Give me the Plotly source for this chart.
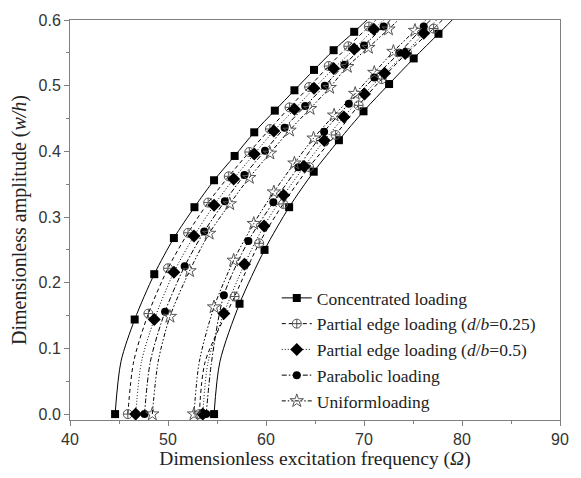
import plotly.graph_objects as go

# ---------------- data ----------------
series_names = [
    "Concentrated loading",
    "Partial edge loading (<i>d</i>/<i>b</i>=0.25)",
    "Partial edge loading (<i>d</i>/<i>b</i>=0.5)",
    "Parabolic loading",
    "Uniformloading",
]

# Left branch markers (frequency, amplitude)
conc_L_x = [44.6, 46.6, 48.6, 50.6, 52.7, 54.7, 56.8, 58.8, 60.9, 62.9, 64.9, 66.9, 69.0]
conc_L_w = [0.0, 0.144, 0.213, 0.268, 0.315, 0.356, 0.393, 0.429, 0.462, 0.493, 0.524, 0.554, 0.582]
pe25_L_x = [45.9, 48.0, 50.0, 52.05, 54.1, 56.2, 58.3, 60.4, 62.4, 64.4, 66.4, 68.4, 70.5]
pe25_L_w = [0.0, 0.153, 0.222, 0.276, 0.322, 0.362, 0.399, 0.434, 0.467, 0.498, 0.530, 0.560, 0.590]
pe05_L_x = [46.7, 48.6, 50.6, 52.65, 54.7, 56.7, 58.8, 60.8, 62.9, 64.9, 66.9, 69.0, 71.0]
pe05_L_w = [0.0, 0.144, 0.216, 0.271, 0.318, 0.358, 0.396, 0.431, 0.464, 0.496, 0.526, 0.556, 0.586]
para_L_x = [47.6, 49.7, 51.7, 53.7, 55.8, 57.8, 59.9, 61.9, 64.0, 66.0, 68.0, 70.0, 72.0]
para_L_w = [0.0, 0.156, 0.225, 0.278, 0.324, 0.364, 0.401, 0.436, 0.469, 0.500, 0.532, 0.561, 0.590]
unif_L_x = [48.4, 50.2, 52.2, 54.2, 56.3, 58.3, 60.4, 62.4, 64.5, 66.5, 68.3, 70.45, 72.5]
unif_L_w = [0.0, 0.1485, 0.218, 0.275, 0.320, 0.360, 0.397, 0.432, 0.465, 0.497, 0.529, 0.558, 0.586]

# Right branch markers
conc_R_x = [54.7, 57.3, 59.85, 62.36, 64.87, 67.44, 69.95, 72.56, 75.07, 77.6]
conc_R_w = [0.0, 0.168, 0.250, 0.315, 0.369, 0.417, 0.461, 0.5025, 0.5415, 0.579]
pe25_R_x = [53.2, 56.8, 59.3, 61.75, 64.4, 67.1, 69.45, 71.8, 74.4, 77.1]
pe25_R_w = [0.0, 0.179, 0.260, 0.320, 0.376, 0.425, 0.470, 0.510, 0.550, 0.587]
pe05_R_x = [53.55, 55.7, 57.8, 59.8, 61.8, 63.9, 65.95, 67.95, 70.05, 72.1, 74.2, 76.1]
pe05_R_w = [0.0, 0.153, 0.228, 0.2865, 0.333, 0.377, 0.4165, 0.4525, 0.4875, 0.519, 0.549, 0.580]
para_R_x = [53.9, 55.7, 58.2, 60.75, 63.3, 65.93, 68.45, 71.06, 73.6, 76.1]
para_R_w = [0.0, 0.181, 0.2635, 0.3225, 0.376, 0.430, 0.4725, 0.5125, 0.550, 0.590]
unif_R_x = [52.65, 54.7, 56.7, 58.75, 60.8, 62.9, 64.85, 66.95, 69.1, 71.05, 73.0, 75.2]
unif_R_w = [0.0, 0.163, 0.234, 0.290, 0.338, 0.382, 0.420, 0.455, 0.488, 0.520, 0.552, 0.584]

# extra points on the drawn curves: low point near the start, and where the curve leaves the top
low_L = {"conc": (45.2, 0.08), "pe25": (46.5, 0.08), "pe05": (47.3, 0.08), "para": (48.2, 0.08), "unif": (49.0, 0.08)}
top_L = {"conc": (70.3, 0.6), "pe25": (71.2, 0.6), "pe05": (72.0, 0.6), "para": (72.7, 0.6), "unif": (73.5, 0.6)}
low_R = {"conc": (55.3, 0.08), "pe25": (53.8, 0.08), "pe05": (54.1, 0.08), "para": (54.45, 0.08), "unif": (53.2, 0.08)}
top_R = {"conc": (79.0, 0.6), "pe25": (78.0, 0.6), "pe05": (77.4, 0.6), "para": (76.8, 0.6), "unif": (76.3, 0.6)}

x_ticks = [40, 50, 60, 70, 80, 90]
y_ticks = [0.0, 0.1, 0.2, 0.3, 0.4, 0.5, 0.6]

# ---------------- styles ----------------
keys = ["conc", "pe25", "pe05", "para", "unif"]
branches = {
    "conc": [(conc_L_x, conc_L_w, "L"), (conc_R_x, conc_R_w, "R")],
    "pe25": [(pe25_L_x, pe25_L_w, "L"), (pe25_R_x, pe25_R_w, "R")],
    "pe05": [(pe05_L_x, pe05_L_w, "L"), (pe05_R_x, pe05_R_w, "R")],
    "para": [(para_L_x, para_L_w, "L"), (para_R_x, para_R_w, "R")],
    "unif": [(unif_L_x, unif_L_w, "L"), (unif_R_x, unif_R_w, "R")],
}
dashes = {"conc": "solid", "pe25": "4px,3px", "pe05": "1px,2px", "para": "5px,2px,1.5px,2px",
          "unif": "4px,2px,1.5px,2px,1.5px,2px"}
markers = {
    "conc": dict(symbol="square", size=8, color="black", line=dict(width=0)),
    "pe25": dict(symbol="circle-cross-open", size=9, color="#555555", line=dict(width=1, color="#555555")),
    "pe05": dict(symbol="diamond", size=10, color="black", line=dict(width=0)),
    "para": dict(symbol="circle", size=8, color="black", line=dict(width=0)),
    "unif": dict(symbol="star-open", size=10, color="#555555", line=dict(width=1, color="#555555")),
}

fig = go.Figure()
for k in keys:
    for bx, bw, side in branches[k]:
        low = (low_L if side == "L" else low_R)[k]
        top = (top_L if side == "L" else top_R)[k]
        lx = [bx[0], low[0]] + bx[1:] + [top[0]]
        lw = [bw[0], low[1]] + bw[1:] + [top[1]]
        fig.add_trace(go.Scatter(x=lx, y=lw, mode="lines",
                                 line=dict(color="black", width=1, dash=dashes[k], shape="spline", smoothing=0.8),
                                 showlegend=False, hoverinfo="skip"))
for k in keys:
    for bx, bw, side in branches[k]:
        fig.add_trace(go.Scatter(x=bx, y=bw, mode="markers", marker=markers[k], showlegend=False))

for k, name in zip(keys, series_names):
    fig.add_trace(go.Scatter(x=[None], y=[None], mode="lines+markers", name=name,
                             line=dict(color="black", width=1, dash=dashes[k]),
                             marker=markers[k]))

axis_common = dict(showline=True, linecolor="#7f7f7f", linewidth=1, mirror=True,
                   ticks="outside", ticklen=5, tickcolor="#7f7f7f", tickwidth=1,
                   showgrid=False, zeroline=False,
                   tickfont=dict(family="Liberation Sans, Arial, sans-serif", size=16, color="#333333"))

serif = "Liberation Serif, Times New Roman, serif"
fig.update_layout(
    width=581, height=478,
    margin=dict(l=70, r=13, t=15, b=57),
    paper_bgcolor="white", plot_bgcolor="white",
    xaxis=dict(range=[40, 90], tickvals=x_ticks,
               minor=dict(ticks="outside", ticklen=3, tickcolor="#7f7f7f", dtick=5, showgrid=False),
               title=dict(text="Dimensionless excitation frequency (<i>Ω</i>)", standoff=4,
                          font=dict(family=serif, size=19.5, color="#222222")),
               **axis_common),
    yaxis=dict(range=[-0.009, 0.6], tickvals=y_ticks, tickformat=".1f",
               minor=dict(ticks="outside", ticklen=3, tickcolor="#7f7f7f", dtick=0.05, showgrid=False),
               title=dict(text="Dimensionless amplitude (<i>w/h</i>)", standoff=6,
                          font=dict(family=serif, size=20, color="#222222")),
               **axis_common),
    legend=dict(x=0.422, y=0.35, xanchor="left", yanchor="top", bgcolor="rgba(0,0,0,0)",
                font=dict(family=serif, size=17.5, color="#222222")),
    showlegend=True,
)

fig.write_html("out.html")
